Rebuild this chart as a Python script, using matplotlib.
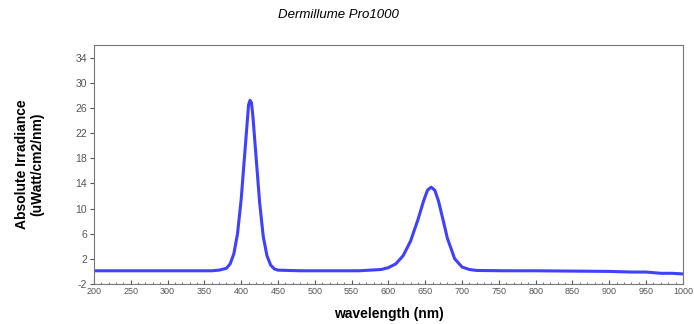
import numpy as np
import matplotlib
matplotlib.use("Agg")
import matplotlib.pyplot as plt
from matplotlib.ticker import MultipleLocator

plt.rcParams['font.family'] = ['Liberation Sans', 'DejaVu Sans']
plt.rcParams['axes.unicode_minus'] = False

# spectrum
wavelength = [200, 250, 300, 340, 360, 370, 380, 385, 390, 395, 400, 405, 408, 410,
              412, 414, 416, 420, 425, 430, 435, 440, 445, 450, 480, 520, 560, 590,
              600, 610, 620, 630, 640, 648, 653, 658, 663, 668, 675, 680, 690, 700,
              710, 720, 760, 800, 850, 900, 930, 950, 970, 985, 1000]
irradiance = [0.1, 0.1, 0.1, 0.1, 0.1, 0.2, 0.5, 1.2, 2.8, 6.0, 11.5, 19.0, 23.5, 26.5,
              27.2, 26.8, 24.5, 18.5, 11.0, 5.5, 2.5, 1.0, 0.4, 0.2, 0.1, 0.1, 0.1, 0.3,
              0.6, 1.2, 2.5, 4.8, 8.2, 11.3, 12.9, 13.4, 12.9, 11.2, 7.8, 5.3, 2.0, 0.7,
              0.3, 0.15, 0.1, 0.1, 0.05, 0.0, -0.1, -0.1, -0.3, -0.3, -0.4]

x_ticks = list(range(200, 1001, 50))
y_ticks = list(range(-2, 35, 4))

fig = plt.figure(figsize=(6.94, 3.24), dpi=100)
ax = fig.add_axes([0.1354, 0.1235, 0.8486, 0.7375])

ax.plot(wavelength, irradiance, color='#4040ff', lw=2.2)

ax.set_xlim(200, 1000)
ax.set_ylim(-2, 36)
ax.set_xticks(x_ticks)
ax.set_yticks(y_ticks)
ax.xaxis.set_minor_locator(MultipleLocator(10))
ax.tick_params(axis='x', direction='in', length=3, labelsize=6.5, colors='#555555', pad=2)
ax.tick_params(axis='x', which='minor', direction='in', length=1.5, color='#666666')
ax.tick_params(axis='y', direction='out', length=3, labelsize=7.5, colors='#555555', pad=2)
for s in ax.spines.values():
    s.set_color('#777777')
    s.set_linewidth(0.8)

fig.text(0.487, 0.955, 'Dermillume Pro1000', fontsize=9.5, style='italic',
         ha='center', va='center')
ax.set_xlabel('wavelength (nm)', fontsize=10, fontweight='bold', labelpad=8)
ax.set_ylabel('Absolute Irradiance\n(uWatt/cm2/nm)', fontsize=10, fontweight='bold',
              labelpad=22)

fig.savefig('out.png', dpi=100)
